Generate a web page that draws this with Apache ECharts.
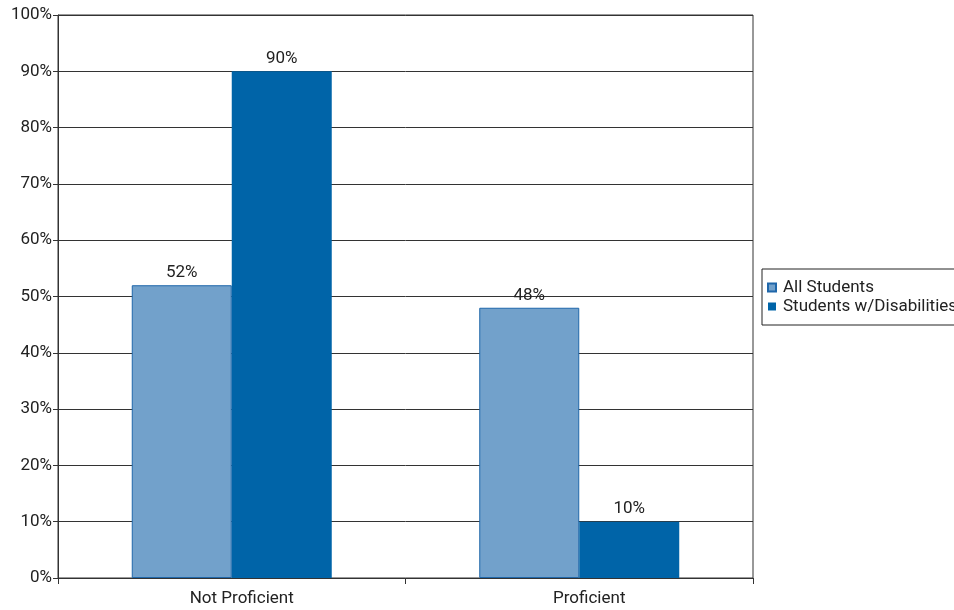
<!DOCTYPE html>
<html>
<head>
<meta charset="utf-8">
<script src="https://cdn.jsdelivr.net/npm/echarts@6/dist/echarts.min.js"></script>
<style>
  html, body { margin: 0; padding: 0; background: #fff; }
  #chart { width: 954px; height: 610px; }
</style>
</head>
<body>
<div id="chart"></div>
<script>
// Proficiency results: share of students by category
const categories = ['Not Proficient', 'Proficient'];
const seriesNames = ['All Students', 'Students w/Disabilities'];
const allStudents = [52, 48];
const studentsWithDisabilities = [90, 10];
const yTicks = [0, 10, 20, 30, 40, 50, 60, 70, 80, 90, 100];

const FONT = 'Roboto, "Liberation Sans", sans-serif';
const FS = 17;
const TEXT = '#222';

const chart = echarts.init(document.getElementById('chart'), null, { renderer: 'canvas' });

chart.setOption({
  animation: false,
  textStyle: { fontFamily: FONT },
  grid: {
    left: 58, right: 201, top: 15, bottom: 32,
    show: true, borderColor: '#333', borderWidth: 1, backgroundColor: 'transparent'
  },
  legend: {
    orient: 'vertical',
    left: 762, top: 269,
    data: seriesNames,
    icon: 'rect',
    itemWidth: 8, itemHeight: 8, itemGap: 2,
    padding: [10, 12, 10, 5],
    borderColor: '#222', borderWidth: 1,
    textStyle: { fontFamily: FONT, fontSize: FS, color: TEXT, padding: [2, 0, 0, 2] }
  },
  xAxis: {
    type: 'category',
    data: categories,
    axisLine: { lineStyle: { color: '#333', width: 1 } },
    axisTick: { show: true, length: 6, lineStyle: { color: '#333' }, alignWithLabel: false },
    axisLabel: { fontFamily: FONT, fontSize: FS, color: TEXT, margin: 12, padding: [0, 0, 0, 20] }
  },
  yAxis: {
    type: 'value',
    min: yTicks[0], max: yTicks[yTicks.length - 1], interval: 10,
    axisLine: { show: true, lineStyle: { color: '#333', width: 1 } },
    axisTick: { show: true, length: 5, lineStyle: { color: '#333' } },
    splitLine: { show: true, lineStyle: { color: '#333', width: 1 } },
    axisLabel: {
      fontFamily: FONT, fontSize: FS, color: TEXT, margin: 6,
      formatter: v => v + '%'
    }
  },
  series: [
    {
      name: seriesNames[0],
      type: 'bar',
      data: allStudents,
      barWidth: 100,
      barGap: '0%',
      itemStyle: { color: '#72a1cb', borderColor: '#1f67aa', borderWidth: 1 },
      label: {
        show: true, position: 'top', distance: 4,
        fontFamily: FONT, fontSize: FS, color: TEXT,
        formatter: p => p.value + '%'
      }
    },
    {
      name: seriesNames[1],
      type: 'bar',
      data: studentsWithDisabilities,
      barWidth: 100,
      barGap: '0%',
      itemStyle: { color: '#0064a8' },
      label: {
        show: true, position: 'top', distance: 4,
        fontFamily: FONT, fontSize: FS, color: TEXT,
        formatter: p => p.value + '%'
      }
    }
  ]
});
</script>
</body>
</html>
